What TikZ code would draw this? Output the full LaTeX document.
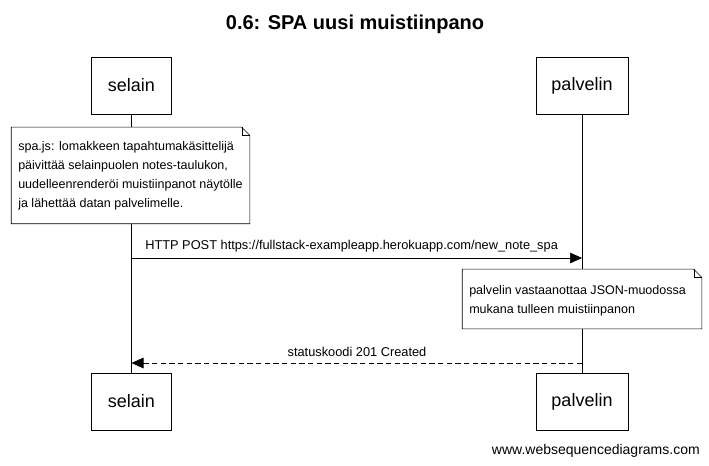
\documentclass[tikz,border=0pt]{standalone}
\usepackage{fontspec}
\setmainfont{Liberation Sans}
\usetikzlibrary{arrows.meta,positioning,fit}
\tikzset{
  every picture/.style={
    line join=miter,
    >={Triangle[length=9pt,width=8pt]},
  },
  actor/.style={draw, fill=white, minimum height=42.75pt,
    font=\fontsize{13.5}{16}\selectfont},
  notebox/.style={align=left, anchor=north west, inner sep=0pt,
    font=\fontsize{9.4}{14.3}\selectfont},
  msg/.style={font=\fontsize{9.6}{12}\selectfont, inner sep=0pt},
}
\newcommand{\notefold}[1]{%
  \draw[fill=white] (#1.north west) -- ([xshift=-6pt]#1.north east)
    -- ([yshift=-6pt]#1.north east) -- (#1.south east)
    -- (#1.south west) -- cycle;
  \draw ([xshift=-6pt]#1.north east) |- ([yshift=-6pt]#1.north east);
}
\begin{document}
\begin{tikzpicture}[x=0.75pt,y=-0.75pt]
    \useasboundingbox (0,0) rectangle (709,466);
    % Title
    \node[font=\bfseries\fontsize{15}{18}\selectfont] (title) at (355,24) {0.6: SPA uusi muistiinpano};
    % Actors
    \node[actor, minimum width=60pt] (selTop) at (131.5,85.5) {selain};
    \node[actor, minimum width=69pt] (palTop) at (582,85.5) {palvelin};
    \node[actor, minimum width=60pt] (selBot) at (131.5,401.5) {selain};
    \node[actor, minimum width=69pt] (palBot) at (582,401.5) {palvelin};
    % Lifelines
    \draw (selTop.south) -- (selBot.north);
    \draw (palTop.south) -- (palBot.north);
    % Note on selain
    \coordinate (n1nw) at (11.5,127.5);
    \coordinate (n1se) at (249.5,223.5);
    \node[inner sep=0pt, fit=(n1nw)(n1se)] (note1) {};
    \notefold{note1}
    \node[notebox] (note1text) at (18,141) {spa.js: lomakkeen tapahtumakäsittelijä\\päivittää selainpuolen notes-taulukon,\\uudelleenrenderöi muistiinpanot näytölle\\ja lähettää datan palvelimelle.};
    % HTTP POST
    \coordinate (m1a) at (131.5,258);
    \coordinate (m1b) at (582,258);
    \draw[->] (m1a) -- (m1b);
    \node[msg, anchor=west] (m1label) at (145,246.5) {HTTP POST https://fullstack-exampleapp.herokuapp.com/new\_note\_spa};
    % Note on palvelin
    \coordinate (n2nw) at (462.5,269.5);
    \coordinate (n2se) at (701.5,328.5);
    \node[inner sep=0pt, fit=(n2nw)(n2se)] (note2) {};
    \notefold{note2}
    \node[notebox] (note2text) at (469,285.5) {palvelin vastaanottaa JSON-muodossa\\mukana tulleen muistiinpanon};
    % Response
    \coordinate (m2a) at (582,363);
    \coordinate (m2b) at (131.5,363);
    \draw[->, dash pattern=on 4pt off 2.5pt] (m2a) -- (m2b);
    \node[msg] (m2label) at (357,352) {statuskoodi 201 Created};
    % Watermark
    \node[font=\fontsize{10.5}{12}\selectfont, anchor=east, inner sep=0pt] (wsd) at (700,451) {www.websequencediagrams.com};
\end{tikzpicture}
\end{document}
